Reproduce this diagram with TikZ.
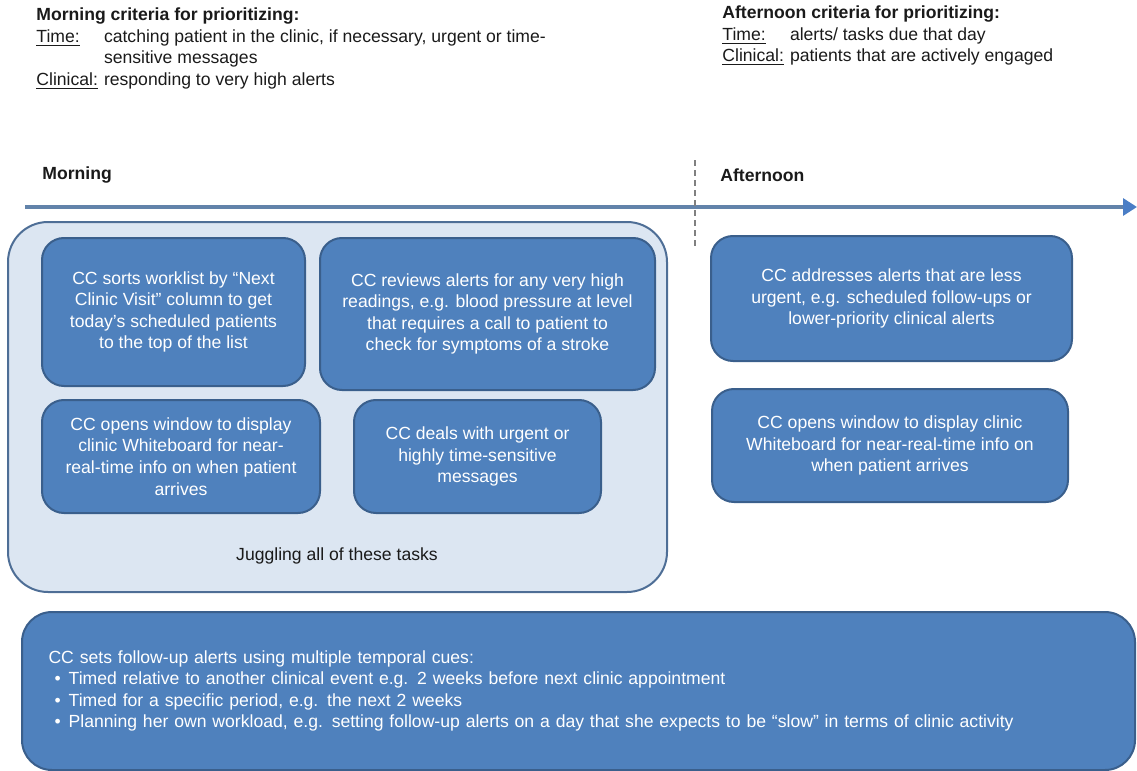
\documentclass[tikz,border=0pt]{standalone}
\usepackage{fontspec}
\setmainfont{Liberation Sans}
\usetikzlibrary{arrows.meta}
\definecolor{boxblue}{HTML}{4F81BD}
\definecolor{boxedge}{HTML}{3A5F8C}
\definecolor{panelfill}{HTML}{DCE6F2}
\definecolor{paneledge}{HTML}{4E6E96}
\definecolor{axisline}{HTML}{6283AA}
\definecolor{axishead}{HTML}{4A7EC6}
\definecolor{inktext}{HTML}{1A1A1A}
\newcommand{\cue}{\hspace*{3pt}\textbullet\hspace{4pt}}
\tikzset{
    x=0.5pt, y=-0.5pt,
    every node/.style={font=\fontsize{8.8}{10.8}\selectfont, text=inktext},
    wh/.style 2 args={minimum width=#1*0.5pt, minimum height=#2*0.5pt},
    task/.style={draw=boxedge, line width=1pt, fill=boxblue, text=white,
        rounded corners=11pt, align=center, inner sep=0pt},
    panel/.style={draw=paneledge, line width=1pt, fill=panelfill,
        rounded corners=20pt, inner sep=0pt},
    phase/.style={font=\fontsize{8.8}{10.8}\selectfont\bfseries, anchor=west, inner sep=0pt},
    criteria/.style={anchor=north west, inner sep=0pt, align=left}
}
\begin{document}
\begin{tikzpicture}
    \useasboundingbox (0,0) rectangle (1137,771);
    % criteria
    \node[criteria] (amcrit) at (36,5) {%
        \begin{tabular}{@{}l@{\hspace{3pt}}l@{}}
        \multicolumn{2}{@{}l}{\textbf{Morning criteria for prioritizing:}}\\
        \underline{Time:} & catching patient in the clinic, if necessary, urgent or time-\\
         & sensitive messages\\
        \underline{Clinical:} & responding to very high alerts
        \end{tabular}};
    \node[criteria] (pmcrit) at (722,3) {%
        \begin{tabular}{@{}l@{\hspace{3pt}}l@{}}
        \multicolumn{2}{@{}l}{\textbf{Afternoon criteria for prioritizing:}}\\
        \underline{Time:} & alerts/ tasks due that day\\
        \underline{Clinical:} & patients that are actively engaged
        \end{tabular}};
    % time line
    \coordinate (t0) at (25,207);
    \coordinate (t1) at (1137,207);
    \draw[axisline, line width=1.6pt, -{Triangle[length=7pt, width=8.5pt, color=axishead]}] (t0) -- (t1);
    \coordinate (d0) at (695,160);
    \coordinate (d1) at (695,246);
    \draw[gray, line width=0.7pt, dash pattern=on 3pt off 2pt] (d0) -- (d1);
    \node[phase] (am) at (42,175) {Morning};
    \node[phase] (pm) at (720,175) {Afternoon};
    % morning tasks
    \node[panel, wh={659}{370}] (juggle) at (337.5,407) {};
    \node[task, wh={263}{148}] (sort) at (173.5,312)
        {CC sorts worklist by “Next\\ Clinic Visit” column to get\\ today’s scheduled patients\\ to the top of the list};
    \node[task, wh={335}{152}] (review) at (487.5,314)
        {CC reviews alerts for any very high\\ readings, e.g. blood pressure at level\\ that requires a call to patient to\\ check for symptoms of a stroke};
    \node[task, wh={278}{113}] (board) at (181,456.5)
        {CC opens window to display\\ clinic Whiteboard for near-\\ real-time info on when patient\\ arrives};
    \node[task, wh={247}{113}] (urgent) at (477.5,456.5)
        {CC deals with urgent or\\ highly time-sensitive\\ messages};
    \node[inner sep=0pt] (jlabel) at (337,556) {Juggling all of these tasks};
    % afternoon tasks
    \node[task, wh={361}{125}] (less) at (891.5,298.5)
        {CC addresses alerts that are less\\ urgent, e.g. scheduled follow-ups or\\ lower-priority clinical alerts};
    \node[task, wh={356}{113}] (board2) at (890,445.5)
        {CC opens window to display clinic\\ Whiteboard for near-real-time info on\\ when patient arrives};
    % follow-up alerts
    \node[task, wh={1113}{158}, rounded corners=15pt, align=left, text width=530pt] (followup) at (578.5,691)
        {CC sets follow-up alerts using multiple temporal cues:\\
        \cue Timed relative to another clinical event e.g. 2 weeks before next clinic appointment\\
        \cue Timed for a specific period, e.g. the next 2 weeks\\
        \cue Planning her own workload, e.g. setting follow-up alerts on a day that she expects to be “slow” in terms of clinic activity};
\end{tikzpicture}
\end{document}
